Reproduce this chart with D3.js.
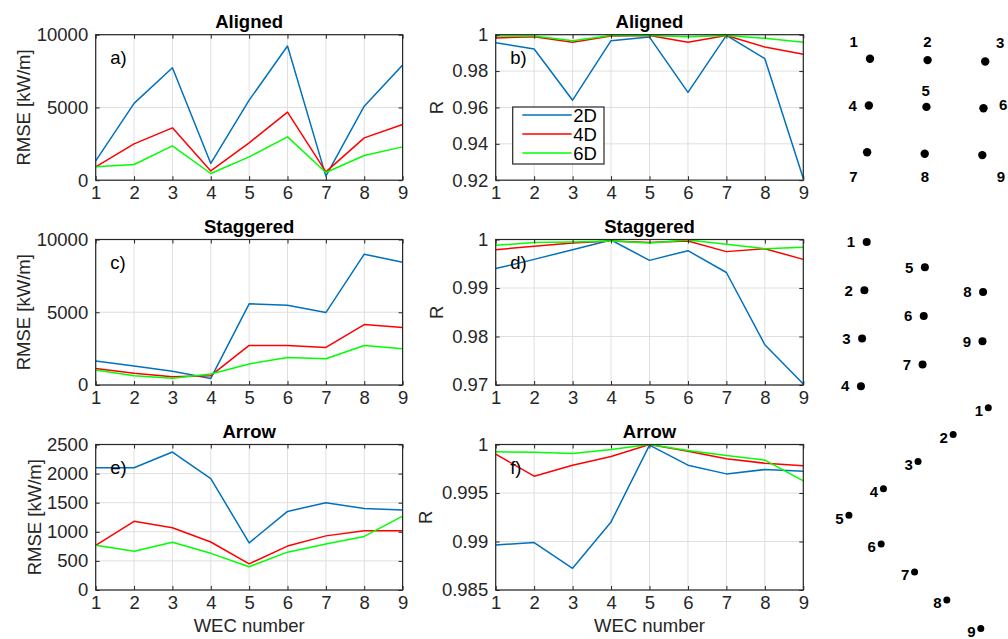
<!DOCTYPE html>
<html>
<head>
<meta charset="utf-8">
<script src="https://cdn.jsdelivr.net/npm/d3@7"></script>
<style>
  body { margin: 0; background: #fff; }
  svg { display: block; }
  text { font-family: "Liberation Sans", Arial, Helvetica, sans-serif; }
</style>
</head>
<body>
<svg id="fig" width="1008" height="639"></svg>
<script>
// ---- data ---------------------------------------------------------------
const wecNumbers = [1, 2, 3, 4, 5, 6, 7, 8, 9];
const seriesNames = ["2D", "4D", "6D"];

// RMSE [kW/m] per WEC
const rmseAligned2D = [1330, 5280, 7730, 1150, 5500, 9220, 280, 5090, 7910];
const rmseAligned4D = [920, 2500, 3600, 640, 2570, 4680, 570, 2910, 3830];
const rmseAligned6D = [920, 1080, 2360, 460, 1600, 2980, 530, 1700, 2290];
const rmseStaggered2D = [1650, 1300, 950, 450, 5580, 5480, 4980, 8990, 8430];
const rmseStaggered4D = [1140, 800, 570, 640, 2720, 2720, 2580, 4150, 3960];
const rmseStaggered6D = [1030, 640, 460, 760, 1450, 1890, 1800, 2720, 2490];
const rmseArrow2D = [2100, 2100, 2370, 1915, 810, 1350, 1500, 1400, 1375];
const rmseArrow4D = [767, 1180, 1070, 825, 450, 755, 930, 1020, 1020];
const rmseArrow6D = [767, 665, 820, 630, 400, 650, 790, 920, 1270];

// Correlation coefficient R per WEC
const rAligned2D = [0.9956, 0.9921, 0.9640, 0.9967, 0.9987, 0.9683, 0.9996, 0.9868, 0.9209];
const rAligned4D = [0.9982, 0.9989, 0.9958, 0.9993, 0.9996, 0.9958, 0.9996, 0.9932, 0.9892];
const rAligned6D = [0.9993, 0.9993, 0.9967, 0.9996, 0.9996, 0.9989, 0.9996, 0.9980, 0.9958];
const rStaggered2D = [0.9940, 0.9959, 0.9979, 0.9999, 0.9957, 0.9977, 0.9932, 0.9783, 0.9702];
const rStaggered4D = [0.9979, 0.9986, 0.9993, 0.9997, 0.9994, 0.9997, 0.9975, 0.9981, 0.9959];
const rStaggered6D = [0.9988, 0.9994, 0.9995, 0.9997, 0.9993, 0.9999, 0.9990, 0.9981, 0.9984];
const rArrow2D = [0.98964, 0.98989, 0.98724, 0.99202, 0.99993, 0.99787, 0.99697, 0.99742, 0.99725];
const rArrow4D = [0.99900, 0.99673, 0.99787, 0.99876, 1.0, 0.99931, 0.99852, 0.99807, 0.99780];
const rArrow6D = [0.99924, 0.99921, 0.99907, 0.99948, 1.0, 0.99938, 0.99886, 0.99838, 0.99625];

// tick values
const xTicks = [1, 2, 3, 4, 5, 6, 7, 8, 9];
const rmseTicksAligned = [0, 5000, 10000];
const rmseTicksStaggered = [0, 5000, 10000];
const rmseTicksArrow = [0, 500, 1000, 1500, 2000, 2500];
const rTicksAligned = [0.92, 0.94, 0.96, 0.98, 1];
const rTicksStaggered = [0.97, 0.98, 0.99, 1];
const rTicksArrow = [0.985, 0.99, 0.995, 1];

// WEC array layouts (spacing units, relative to WEC 1)
const layoutAlignedX = [0, 1.00, 2.00, -0.02, 0.98, 1.97, -0.05, 0.95, 1.95];
const layoutAlignedY = [0, 0.03, 0.06, 1.00, 1.03, 1.06, 2.00, 2.03, 2.06];
const layoutStaggeredX = [0, -0.04, -0.08, -0.10, 1.01, 0.99, 0.97, 2.02, 2.01];
const layoutStaggeredY = [0, 1.03, 2.06, 3.08, 0.54, 1.58, 2.62, 1.07, 2.12];
const layoutArrowX = [0, -0.61, -1.22, -1.82, -2.42, -1.86, -1.28, -0.72, -0.13];
const layoutArrowY = [0, 0.57, 1.15, 1.73, 2.30, 2.91, 3.51, 4.11, 4.72];

// ---- styling / geometry ---------------------------------------------------
const seriesColors = ["#0072BD", "#FF0000", "#00FF00"];
const axisColor = "#262626";
const gridColor = "#dfdfdf";
const fontSize = 18.5;
const colX = [95.7, 495.7];
const colW = [306.9, 307.6];
const rowY = [34.7, 239.5, 444.5];
const panelH = 145.5;

const svg = d3.select("#fig");

const panels = [
  { row: 0, col: 0, title: "Aligned", tag: "a)", domain: [0, 10000], ticks: rmseTicksAligned,
    series: [rmseAligned2D, rmseAligned4D, rmseAligned6D], ylabel: "RMSE [kW/m]", ylabelX: 29.5 },
  { row: 0, col: 1, title: "Aligned", tag: "b)", domain: [0.92, 1], ticks: rTicksAligned,
    series: [rAligned2D, rAligned4D, rAligned6D], ylabel: "R", ylabelX: 442.5, legend: true },
  { row: 1, col: 0, title: "Staggered", tag: "c)", domain: [0, 10000], ticks: rmseTicksStaggered,
    series: [rmseStaggered2D, rmseStaggered4D, rmseStaggered6D], ylabel: "RMSE [kW/m]", ylabelX: 29.5 },
  { row: 1, col: 1, title: "Staggered", tag: "d)", domain: [0.97, 1], ticks: rTicksStaggered,
    series: [rStaggered2D, rStaggered4D, rStaggered6D], ylabel: "R", ylabelX: 442.5 },
  { row: 2, col: 0, title: "Arrow", tag: "e)", domain: [0, 2500], ticks: rmseTicksArrow,
    series: [rmseArrow2D, rmseArrow4D, rmseArrow6D], ylabel: "RMSE [kW/m]", ylabelX: 40.5, xlabel: "WEC number" },
  { row: 2, col: 1, title: "Arrow", tag: "f)", domain: [0.985, 1], ticks: rTicksArrow,
    series: [rArrow2D, rArrow4D, rArrow6D], ylabel: "R", ylabelX: 431.5, xlabel: "WEC number" }
];

function styleAxis(sel) {
  sel.select(".domain").remove();
  sel.attr("font-family", null).attr("font-size", null);
  sel.selectAll("line").attr("stroke", axisColor);
  sel.selectAll("text").attr("fill", axisColor).style("font-size", fontSize + "px");
}

function drawPanel(p, idx) {
  const x0 = colX[p.col], y0 = rowY[p.row], w = colW[p.col], h = panelH;
  const x = d3.scaleLinear().domain([1, 9]).range([x0, x0 + w]);
  const y = d3.scaleLinear().domain(p.domain).range([y0 + h, y0]);
  const g = svg.append("g");

  // grid
  g.append("g").selectAll("line").data(xTicks).join("line")
    .attr("x1", d => x(d)).attr("x2", d => x(d))
    .attr("y1", y0).attr("y2", y0 + h)
    .attr("stroke", gridColor).attr("stroke-width", 1);
  g.append("g").selectAll("line").data(p.ticks).join("line")
    .attr("x1", x0).attr("x2", x0 + w)
    .attr("y1", d => y(d)).attr("y2", d => y(d))
    .attr("stroke", gridColor).attr("stroke-width", 1);

  // series lines, clipped to the axes box
  const clipId = "clip" + idx;
  svg.append("clipPath").attr("id", clipId).append("rect")
    .attr("x", x0).attr("y", y0).attr("width", w).attr("height", h);
  const line = d3.line().x((d, i) => x(wecNumbers[i])).y(d => y(d));
  g.append("g").attr("clip-path", `url(#${clipId})`)
    .selectAll("path").data(p.series).join("path")
    .attr("d", line)
    .attr("fill", "none")
    .attr("stroke", (d, i) => seriesColors[i])
    .attr("stroke-width", 1.5)
    .attr("stroke-linejoin", "round");

  // axes with inward ticks on all four sides
  const fmt = d => String(d);
  g.append("g").attr("transform", `translate(0,${y0 + h})`)
    .call(d3.axisBottom(x).tickValues(xTicks).tickFormat(fmt).tickSizeInner(-4).tickSizeOuter(0).tickPadding(6))
    .call(styleAxis);
  g.append("g").attr("transform", `translate(0,${y0})`)
    .call(d3.axisTop(x).tickValues(xTicks).tickFormat("").tickSizeInner(-4).tickSizeOuter(0))
    .call(styleAxis);
  g.append("g").attr("transform", `translate(${x0},0)`)
    .call(d3.axisLeft(y).tickValues(p.ticks).tickFormat(fmt).tickSizeInner(-4).tickSizeOuter(0).tickPadding(7.5))
    .call(styleAxis);
  g.append("g").attr("transform", `translate(${x0 + w},0)`)
    .call(d3.axisRight(y).tickValues(p.ticks).tickFormat("").tickSizeInner(-4).tickSizeOuter(0))
    .call(styleAxis);

  g.append("rect")
    .attr("x", x0).attr("y", y0).attr("width", w).attr("height", h)
    .attr("fill", "none").attr("stroke", axisColor).attr("stroke-width", 1.2);

  // title
  g.append("text")
    .attr("x", x0 + w / 2).attr("y", y0 - 6.5)
    .attr("text-anchor", "middle")
    .attr("font-weight", "bold")
    .style("font-size", fontSize + "px")
    .attr("fill", "#000")
    .text(p.title);

  // panel tag
  g.append("text")
    .attr("x", x0 + 14.5).attr("y", y0 + 29)
    .style("font-size", fontSize + "px")
    .attr("fill", "#000")
    .text(p.tag);

  // y label
  g.append("text")
    .attr("transform", `translate(${p.ylabelX},${y0 + h / 2}) rotate(-90)`)
    .attr("text-anchor", "middle")
    .style("font-size", fontSize + "px")
    .attr("fill", axisColor)
    .text(p.ylabel);

  // x label
  if (p.xlabel) {
    g.append("text")
      .attr("x", x0 + w / 2).attr("y", y0 + h + 41.5)
      .attr("text-anchor", "middle")
      .style("font-size", fontSize + "px")
      .attr("fill", axisColor)
      .text(p.xlabel);
  }

  // legend
  if (p.legend) {
    const lg = g.append("g").attr("transform", `translate(${x0 + 17},${y0 + 72.3})`);
    lg.append("rect").attr("x", 0).attr("y", 0).attr("width", 91.3).attr("height", 57)
      .attr("fill", "#fff").attr("stroke", axisColor).attr("stroke-width", 1.2);
    const item = lg.selectAll("g.item").data(seriesNames).join("g")
      .attr("class", "item")
      .attr("transform", (d, i) => `translate(0,${8 + i * 19})`);
    item.append("line").attr("x1", 9.6).attr("x2", 59)
      .attr("stroke", (d, i) => seriesColors[i]).attr("stroke-width", 1.5);
    item.append("text").attr("x", 60.6).attr("y", 6.6)
      .style("font-size", fontSize + "px").attr("fill", "#000")
      .text(d => d);
  }
}

panels.forEach(drawPanel);

// ---- array layout sketches ---------------------------------------------------
const unitX = 57.6, unitY = 46.8;
const layouts = [
  { xs: layoutAlignedX, ys: layoutAlignedY, origin: [870, 58.7], r: 4.2,
    offsets: [[-16.3, -11.4], [-0.2, -12.7], [15, -14], [-16.2, 5], [-0.8, -11], [19.8, 2],
              [-13.7, 29.7], [0.3, 28.3], [18.7, 27]], anchor: "middle" },
  { xs: layoutStaggeredX, ys: layoutStaggeredY, origin: [866.7, 242], r: 4,
    offsets: wecNumbers.map(() => [-11.5, 5.3]), anchor: "end" },
  { xs: layoutArrowX, ys: layoutArrowY, origin: [988.3, 407.7], r: 3.5,
    offsets: wecNumbers.map(() => [-5.3, 8.3]), anchor: "end" }
];

layouts.forEach(L => {
  const sx = d3.scaleLinear().domain([0, 1]).range([L.origin[0], L.origin[0] + unitX]);
  const sy = d3.scaleLinear().domain([0, 1]).range([L.origin[1], L.origin[1] + unitY]);
  const g = svg.append("g");
  g.selectAll("circle").data(wecNumbers).join("circle")
    .attr("cx", (d, i) => sx(L.xs[i]))
    .attr("cy", (d, i) => sy(L.ys[i]))
    .attr("r", L.r)
    .attr("fill", "#000");
  g.selectAll("text").data(wecNumbers).join("text")
    .attr("x", (d, i) => sx(L.xs[i]) + L.offsets[i][0])
    .attr("y", (d, i) => sy(L.ys[i]) + L.offsets[i][1])
    .attr("text-anchor", L.anchor)
    .attr("font-weight", "bold")
    .style("font-size", "15px")
    .attr("fill", "#000")
    .text(d => d);
});
</script>
</body>
</html>
